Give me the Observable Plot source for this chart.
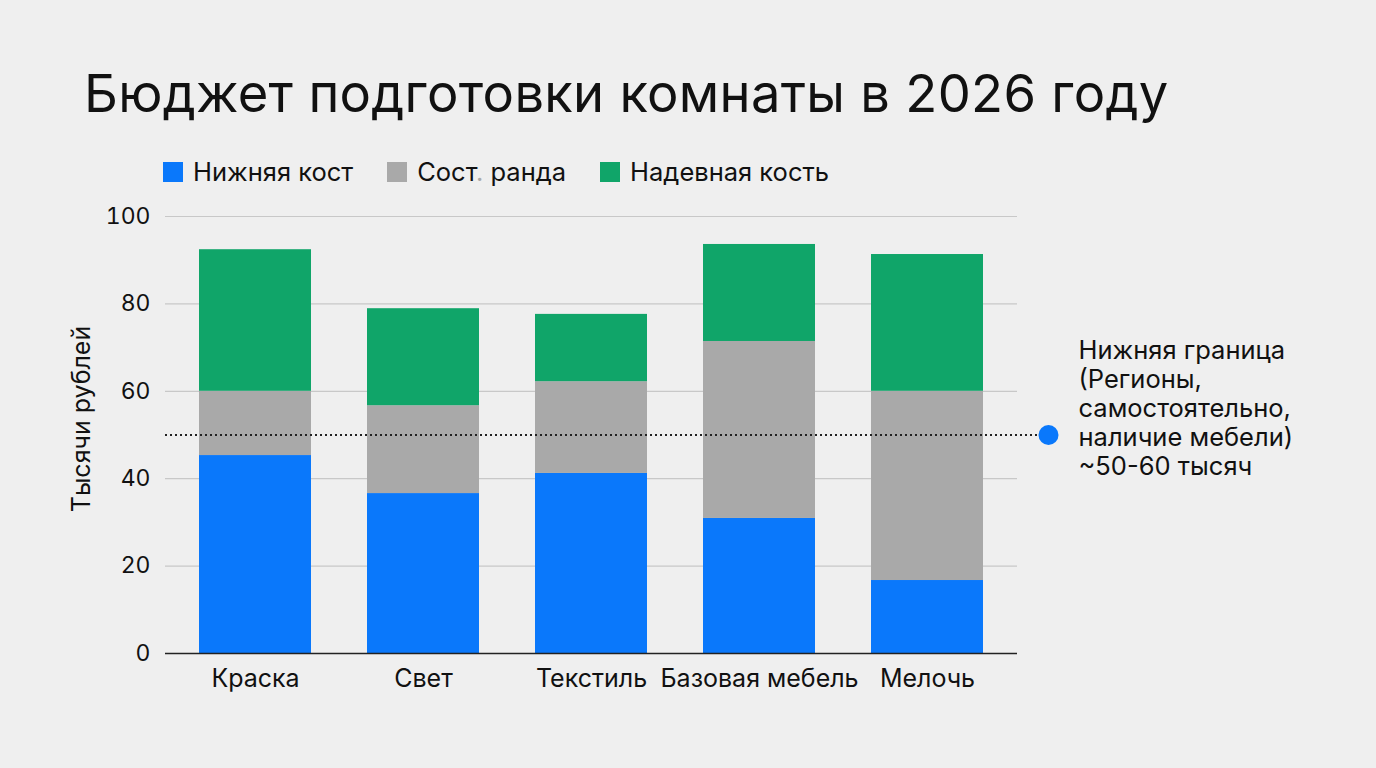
<!DOCTYPE html>
<html><head><meta charset="utf-8">
<script src="https://cdn.jsdelivr.net/npm/d3@7"></script>
<script src="https://cdn.jsdelivr.net/npm/@observablehq/plot@0.6"></script>
<style>
html,body{margin:0;padding:0;background:#efefef;width:1376px;height:768px;overflow:hidden;font-family:Inter,"Noto Sans",sans-serif;color:#111;}
#title{position:absolute;left:84px;top:61px;font-size:52.5px;font-weight:400;letter-spacing:0.3px;white-space:nowrap;}
#legend{position:absolute;left:163px;top:156px;display:flex;align-items:center;font-size:25.5px;white-space:nowrap;}
#legend .it{display:flex;align-items:center;margin-right:34px;}
#legend .sw{width:20px;height:20px;margin-right:10px;}
#chart{position:absolute;left:0;top:0;}
</style></head><body>
<div id="title"></div>
<div id="legend"></div>
<div id="chart"></div>
<script>
const categories = ["Краска","Свет","Текстиль","Базовая мебель","Мелочь"];
const seriesNames = ["Нижняя кост","Сост. ранда","Надевная кость"];
const lowValues = [45.3, 36.6, 41.2, 30.9, 16.7];
const midValues = [14.7, 20.1, 21.0, 40.5, 43.3];
const highValues = [32.4, 22.2, 15.4, 22.2, 31.3];
const colors = ["#0a78fb","#a9a9a9","#10a569"];
const yTicks = [0,20,40,60,80,100];
const thresholdValue = 50;
const annotationText = "Нижняя граница\n(Регионы,\nсамостоятельно,\nналичие мебели)\n~50-60 тысяч";
const titleText = "Бюджет подготовки комнаты в 2026 году";
const yLabel = "Тысячи рублей";

document.getElementById("title").textContent = titleText;
const leg = document.getElementById("legend");
seriesNames.forEach((n,i)=>{
  const it=document.createElement("div");it.className="it";
  const sw=document.createElement("div");sw.className="sw";sw.style.background=colors[i];
  const t=document.createElement("span");
  const k=n.indexOf(".");
  if(k>=0){
    t.appendChild(document.createTextNode(n.slice(0,k)));
    const dot=document.createElement("span");dot.style.color="#aaa";dot.textContent=".";
    t.appendChild(dot);
    t.appendChild(document.createTextNode(n.slice(k+1)));
  } else t.textContent=n;
  it.appendChild(sw);it.appendChild(t);leg.appendChild(it);
});

const data = [];
categories.forEach((c,i)=>{
  data.push({cat:c, series:seriesNames[0], value:lowValues[i]});
  data.push({cat:c, series:seriesNames[1], value:midValues[i]});
  data.push({cat:c, series:seriesNames[2], value:highValues[i]});
});

const chart = Plot.plot({
  width:1376, height:768,
  marginTop:216, marginBottom:115, marginLeft:165, marginRight:359,
  style:{background:"transparent", fontFamily:"Inter, 'Noto Sans', sans-serif", color:"#111", overflow:"visible"},
  x:{domain:categories, paddingInner:0.336, paddingOuter:0.19, label:null},
  y:{domain:[0,100], ticks:yTicks, label:null},
  color:{domain:seriesNames, range:colors},
  marks:[
    Plot.gridY(yTicks, {stroke:"#c8c8c8", strokeOpacity:1, strokeWidth:1.2}),
    Plot.barY(data, Plot.stackY({order:seriesNames, x:"cat", y:"value", fill:"series"})),
    Plot.ruleY([0], {stroke:"#222", strokeWidth:1.5}),
    Plot.ruleY([thresholdValue], {stroke:"#222", strokeWidth:2, strokeDasharray:"2,3", insetRight:-22}),
    Plot.dot([thresholdValue], {y:d=>d, frameAnchor:"right", dx:31, r:10, fill:colors[0], stroke:null}),
    Plot.text([annotationText], {y:()=>thresholdValue, frameAnchor:"right", dx:61, dy:-27, textAnchor:"start", fontSize:25.5, lineHeight:1.14, fill:"#111"}),
    Plot.axisX({tickSize:0, tickPadding:16, fontSize:25, label:null}),
    Plot.axisY({ticks:yTicks, tickSize:0, tickPadding:15, fontSize:23, label:null}),
    Plot.text([yLabel], {frameAnchor:"left", textAnchor:"middle", dx:-84, dy:-16, rotate:-90, fontSize:25, fill:"#111"})
  ]
});
document.getElementById("chart").appendChild(chart);
</script>
</body></html>
